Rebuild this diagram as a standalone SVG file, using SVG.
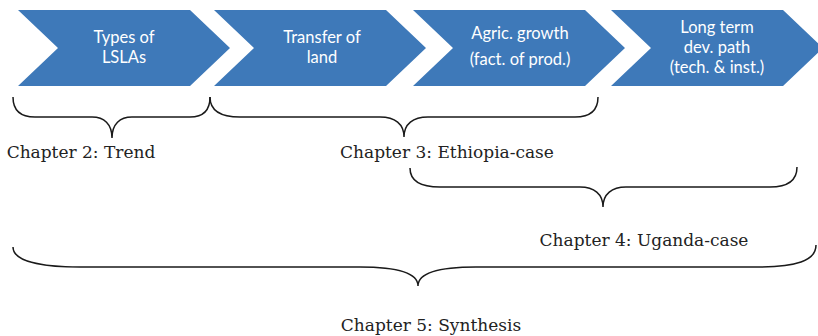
<svg xmlns="http://www.w3.org/2000/svg" width="818" height="336" viewBox="0 0 818 336">
<style>
.chev{fill:#3E79B9;}
.ct{font-family:Lato,"Open Sans","Liberation Sans",sans-serif;font-size:16.5px;fill:#ffffff;text-anchor:middle;}
.brace{fill:none;stroke:#1a1a1a;stroke-width:1.5;}
.lbl{font-family:"DejaVu Serif","Liberation Serif",serif;font-size:17px;fill:#222;text-anchor:middle;}
</style>
<rect width="818" height="336" fill="#ffffff"/>
<g id="node-types">
<polygon class="chev" points="18,10 190,10 230,48 190,86 18,86 58,48"/>
<text class="ct" x="124" y="43">Types of</text>
<text class="ct" x="124" y="63">LSLAs</text>
</g>
<g id="node-transfer">
<polygon class="chev" points="214,10 386,10 426,48 386,86 214,86 254,48"/>
<text class="ct" x="322" y="43">Transfer of</text>
<text class="ct" x="322" y="63">land</text>
</g>
<g id="node-agric">
<polygon class="chev" points="413,10 585,10 625,48 585,86 413,86 453,48"/>
<text class="ct" x="520" y="39">Agric. growth</text>
<text class="ct" x="520" y="65">(fact. of prod.)</text>
</g>
<g id="node-longterm">
<polygon class="chev" points="611,10 783,10 823,48 783,86 611,86 651,48"/>
<text class="ct" x="717" y="33">Long term</text>
<text class="ct" x="717" y="53">dev. path</text>
<text class="ct" x="717" y="73">(tech. &amp; inst.)</text>
</g>
<g id="connectors">
<path class="brace" d="M13,97 C13,110 20,117 35,117 L92,117 C104,117 112,124 112,138 C112,124 120,117 132,117 L190,117 C203,117 210,110 210,97"/>
<path class="brace" d="M210,97 C210,110 220,117 240,117 L380,117 C395,117 404,124 404,137 C404,124 413,117 428,117 L575,117 C590,117 598,110 598,97"/>
<path class="brace" d="M410,168 C410,181 420,187 440,187 L580,187 C594,187 603,194 603,207 C603,194 612,187 626,187 L770,187 C788,187 797,180 797,167"/>
<path class="brace" d="M13,247 C13,261 40,267 80,267 L360,267 C395,267 418,272 418,286 C418,272 441,267 476,267 L756,267 C796,267 816,261 816,245"/>
</g>
<g id="labels">
<text class="lbl" x="81" y="158">Chapter 2: Trend</text>
<text class="lbl" x="447" y="158">Chapter 3: Ethiopia-case</text>
<text class="lbl" x="644" y="246">Chapter 4: Uganda-case</text>
<text class="lbl" x="431" y="331">Chapter 5: Synthesis</text>
</g>
</svg>
